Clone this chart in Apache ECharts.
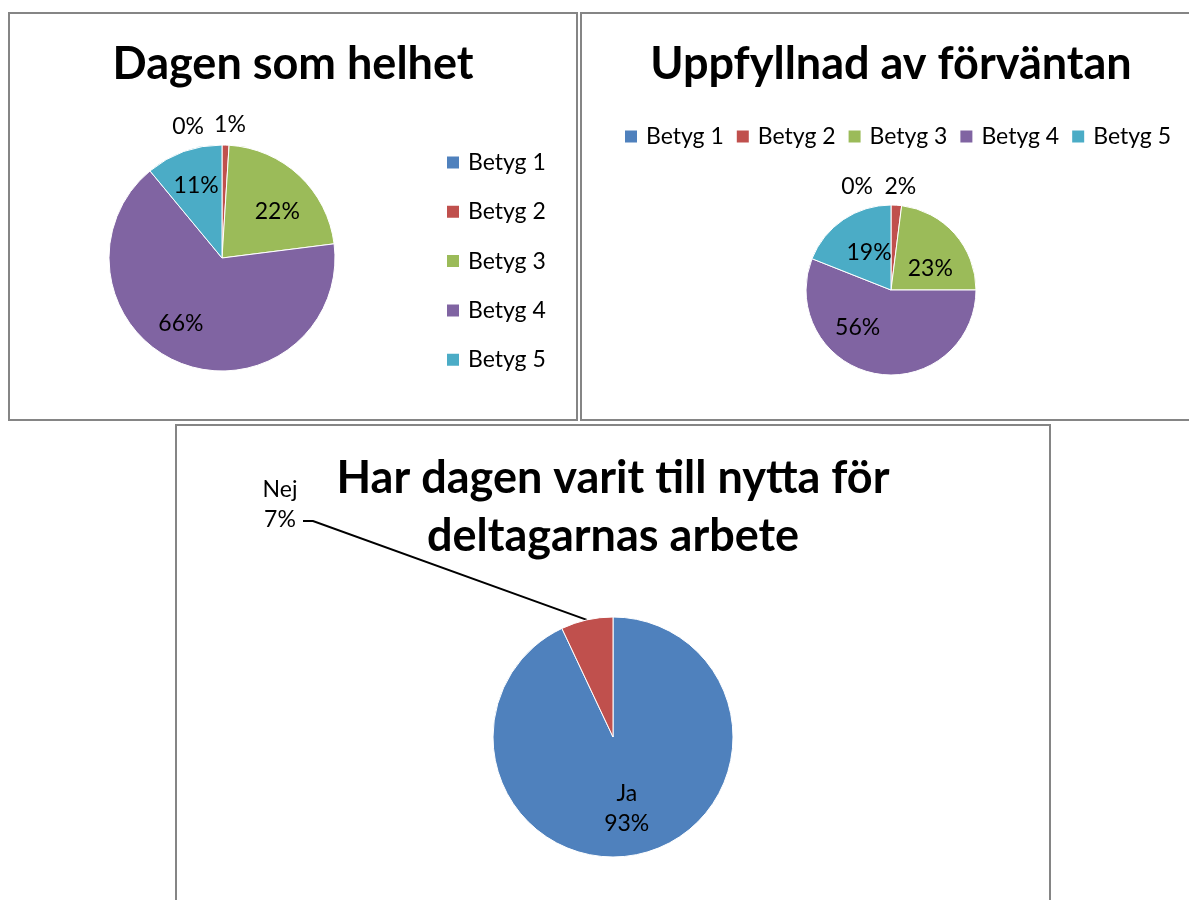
<!DOCTYPE html>
<html>
<head>
<meta charset="utf-8">
<script src="https://cdn.jsdelivr.net/npm/echarts@6/dist/echarts.min.js"></script>
<style>
  html, body { margin: 0; padding: 0; background: #fff; width: 1189px; height: 900px; overflow: hidden; }
  .box { position: absolute; border: 2px solid #858585; background: #fff; }
  .chart { width: 100%; height: 100%; }
</style>
</head>
<body>
<div class="box" style="left:8px;top:12px;width:566px;height:405px;"><div id="c1" class="chart"></div></div>
<div class="box" style="left:580px;top:12px;width:618px;height:405px;"><div id="c2" class="chart"></div></div>
<div class="box" style="left:175px;top:424px;width:872px;height:480px;"><div id="c3" class="chart"></div></div>
<script>
var betygNames = ['Betyg 1', 'Betyg 2', 'Betyg 3', 'Betyg 4', 'Betyg 5'];
var helhetValues = [0, 1, 22, 66, 11];
var forvantanValues = [0, 2, 23, 56, 19];
var nyttaNames = ['Ja', 'Nej'];
var nyttaValues = [93, 7];
var colors = ['#4F81BD', '#C0504D', '#9BBB59', '#8064A2', '#4BACC6'];

var FONT = 'Lato';
var pct = function (p) { return Math.round(p.percent) + '%'; };

// full pie (colours, legend) + transparent ring on top that carries the labels
function betygOption(titleText, values, center, radius, innerRatio, legend, nudges) {
    var pieData = [], labelData = [];
    for (var i = 0; i < betygNames.length; i++) {
        pieData.push({ name: betygNames[i], value: values[i] });
        var item = { name: betygNames[i], value: values[i] };
        if (i < 2) {
            item.label = { position: 'outside' };
            item.labelLine = { show: false, length: 18, length2: 0 };
        }
        labelData.push(item);
    }
    return {
        color: colors,
        title: {
            text: titleText, left: 'center', top: 23,
            textStyle: { fontFamily: FONT, fontSize: 45, fontWeight: 'bold', color: '#000' }
        },
        legend: legend,
        series: [
            {
                type: 'pie', center: center, radius: [0, radius],
                label: { show: false }, labelLine: { show: false },
                itemStyle: { borderColor: '#fff', borderWidth: 1 },
                emphasis: { disabled: true },
                data: pieData
            },
            {
                type: 'pie', center: center, radius: [radius * innerRatio, radius],
                silent: true, avoidLabelOverlap: false,
                itemStyle: { color: 'rgba(0,0,0,0)', borderWidth: 0 },
                label: {
                    show: true, position: 'inside', formatter: pct,
                    fontFamily: FONT, fontSize: 23, color: '#000'
                },
                labelLayout: function (p) {
                    var n = nudges[p.dataIndex];
                    var res = { dx: n[0], dy: n[1] };
                    if (p.dataIndex === 0) res.align = 'right';
                    return res;
                },
                data: labelData
            }
        ]
    };
}

var legendText = { fontFamily: FONT, fontSize: 23, color: '#000', lineHeight: 22, padding: [0, 0, 0, 3] };

var chart1 = echarts.init(document.getElementById('c1'));
chart1.setOption(betygOption('Dagen som helhet', helhetValues, [212, 244], 113, 0.3, {
    orient: 'vertical', left: 430, top: 132, itemWidth: 14, itemHeight: 14, itemGap: 26.3,
    icon: 'rect', selectedMode: false, textStyle: legendText
}, [[-13, 0], [-17, -2], [3, 9], [-13, -6], [0, 0]]));

var chart2 = echarts.init(document.getElementById('c2'));
chart2.setOption(betygOption('Uppfyllnad av förväntan', forvantanValues, [309, 276], 85, 0.1, {
    orient: 'horizontal', left: 36, top: 106, itemWidth: 14, itemHeight: 14, itemGap: 11,
    icon: 'rect', selectedMode: false, textStyle: legendText
}, [[-13, 0], [-18, -1], [2, 11], [-24, -11], [6, 4]]));

var chart3 = echarts.init(document.getElementById('c3'));
chart3.setOption({
    color: [colors[0], colors[1]],
    title: {
        text: 'Har dagen varit till nytta för\ndeltagarnas arbete', left: 'center', top: 18,
        textStyle: { fontFamily: FONT, fontSize: 45, fontWeight: 'bold', color: '#000', lineHeight: 58 }
    },
    series: [{
        type: 'pie', center: [436, 311], radius: [0, 120],
        avoidLabelOverlap: false,
        itemStyle: { borderColor: '#fff', borderWidth: 1 },
        emphasis: { disabled: true },
        label: {
            show: true, position: 'inside', formatter: '{b}\n{d}%',
            fontFamily: FONT, fontSize: 23, color: '#000', lineHeight: 30
        },
        labelLine: { show: true, length: 10, length2: 8, lineStyle: { color: '#000', width: 2 } },
        labelLayout: function (p) {
            if (p.dataIndex === 0) return { dy: 10 };
            // Nej: label up-left, leader line ends beside the "7%" row
            var pts = p.labelLinePoints;
            var start = pts ? pts[0] : [410, 194];
            return {
                x: 103, y: 79, align: 'center', verticalAlign: 'middle',
                labelLinePoints: [start, [136, 95], [126, 95]]
            };
        },
        data: [
            { name: nyttaNames[0], value: nyttaValues[0] },
            { name: nyttaNames[1], value: nyttaValues[1], label: { position: 'outside' } }
        ]
    }]
});
</script>
</body>
</html>
